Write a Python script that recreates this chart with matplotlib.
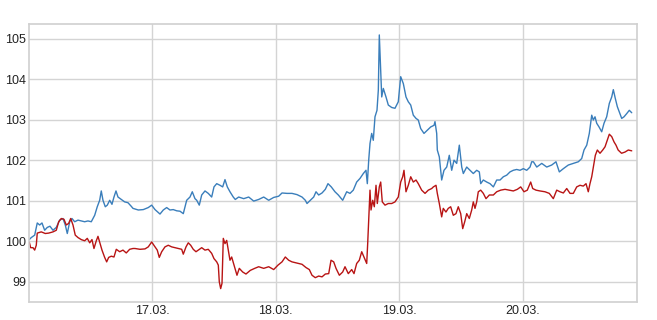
import matplotlib
matplotlib.use("Agg")
import matplotlib.pyplot as plt
import pandas as pd

# hours since 16.03. 00:00 and index values
blue_hours = [0.05, 0.45, 1.11, 1.61, 2.08, 2.53, 3.05, 3.56, 4.08, 4.67, 5.31, 5.97, 6.61, 7.06, 7.45,
              7.92, 8.36, 8.89, 9.53, 10.17, 10.83, 11.47, 12.12, 12.45, 12.78, 13.28, 13.75, 14.06,
              14.39, 14.84, 15.23, 15.70, 16.14, 16.53, 16.92, 17.31, 17.95, 18.61, 19.25, 19.90,
              20.23, 21.26, 22.23, 23.20, 23.86, 24.51, 25.48, 26.12, 26.78, 27.42, 28.06, 28.73,
              29.37, 30.01, 30.34, 30.67, 31.31, 31.76, 32.28, 32.62, 33.12, 33.59, 34.23, 34.87,
              35.53, 35.98, 36.51, 37.15, 37.67, 38.12, 38.57, 39.09, 39.73, 40.12, 40.78, 41.76,
              42.73, 43.70, 44.67, 45.65, 46.62, 47.59, 48.56, 49.21, 50.18, 51.15, 52.12, 53.10,
              53.74, 54.07, 54.71, 55.37, 55.82, 56.34, 56.99, 57.63, 58.15, 58.79, 59.51, 60.16,
              61.01, 61.79, 62.43, 63.07, 63.73, 64.38, 65.02, 65.54, 65.80, 66.07, 66.32, 66.65,
              66.96, 67.29, 67.68, 67.94, 68.13, 68.40, 68.60, 68.91, 69.43, 69.88, 70.54, 71.18,
              71.82, 72.29, 72.80, 73.32, 73.77, 74.24, 74.74, 75.27, 75.71, 76.18, 76.82, 77.47,
              78.13, 78.77, 78.96, 79.29, 79.41, 79.80, 80.26, 80.71, 81.24, 81.74, 82.21, 82.66,
              83.18, 83.69, 84.16, 84.47, 85.13, 85.77, 86.41, 87.07, 87.58, 87.85, 88.36, 89.02,
              89.66, 90.31, 90.96, 91.61, 92.25, 92.91, 93.55, 94.19, 94.85, 95.49, 96.14, 96.80,
              97.44, 97.77, 98.09, 98.75, 99.72, 100.69, 101.66, 102.49, 103.14, 103.92, 104.89,
              105.86, 106.83, 107.49, 107.94, 108.47, 108.97, 109.44, 109.75, 110.08, 110.41,
              110.86, 111.38, 111.83, 112.35, 112.86, 113.33, 113.64, 114.03, 114.42, 114.81,
              115.27, 115.72, 116.25, 116.75, 117.22]
blue_values = [100.04, 100.09, 100.15, 100.45, 100.40, 100.45, 100.27, 100.34, 100.37, 100.27, 100.34,
               100.52, 100.56, 100.40, 100.19, 100.48, 100.56, 100.48, 100.52, 100.50, 100.48, 100.50,
               100.48, 100.56, 100.64, 100.85, 101.01, 101.24, 101.01, 100.85, 100.89, 101.01, 100.91,
               101.09, 101.24, 101.09, 101.03, 100.97, 100.95, 100.86, 100.81, 100.77, 100.78, 100.83,
               100.89, 100.78, 100.67, 100.77, 100.83, 100.77, 100.78, 100.75, 100.74, 100.68, 100.85,
               101.01, 101.09, 101.22, 101.05, 101.01, 100.89, 101.14, 101.24, 101.18, 101.09, 101.34,
               101.42, 101.38, 101.34, 101.52, 101.34, 101.22, 101.09, 101.03, 101.09, 101.05, 101.09,
               100.99, 101.03, 101.09, 101.01, 101.08, 101.11, 101.19, 101.18, 101.18, 101.15, 101.09,
               101.01, 100.93, 101.01, 101.09, 101.22, 101.14, 101.19, 101.28, 101.42, 101.34, 101.22,
               101.14, 101.01, 101.22, 101.18, 101.26, 101.46, 101.55, 101.67, 101.75, 101.42, 102.00,
               102.41, 102.66, 102.49, 103.07, 103.23, 103.73, 105.09, 104.22, 103.56, 103.77, 103.56,
               103.36, 103.30, 103.28, 103.44, 104.06, 103.89, 103.56, 103.44, 103.36, 103.11, 103.03,
               102.99, 102.78, 102.66, 102.74, 102.82, 102.86, 102.95, 102.66, 102.25, 102.08, 101.51,
               101.75, 101.83, 102.12, 101.75, 102.00, 101.92, 102.37, 101.83, 101.67, 101.83, 101.75,
               101.67, 101.75, 101.71, 101.42, 101.51, 101.46, 101.42, 101.34, 101.51, 101.51, 101.59,
               101.63, 101.71, 101.75, 101.77, 101.75, 101.79, 101.75, 101.83, 101.96, 101.96, 101.83,
               101.92, 101.83, 101.88, 101.96, 101.71, 101.79, 101.88, 101.92, 101.96, 102.04, 102.25,
               102.37, 102.66, 103.11, 102.99, 103.07, 102.91, 102.82, 102.70, 102.91, 103.07, 103.40,
               103.56, 103.74, 103.52, 103.32, 103.19, 103.03, 103.07, 103.15, 103.23, 103.17]

red_hours = [0.05, 0.33, 0.78, 1.11, 1.42, 1.61, 2.39, 3.17, 3.83, 4.67, 5.31, 5.78, 6.28, 6.81, 7.25,
             7.72, 8.11, 8.56, 9.00, 9.53, 10.17, 10.83, 11.34, 11.81, 12.25, 12.64, 13.09, 13.42,
             13.75, 14.20, 14.72, 15.11, 15.50, 16.01, 16.53, 16.98, 17.64, 18.28, 18.92, 19.58,
             20.23, 20.62, 21.59, 22.56, 23.20, 23.86, 24.51, 24.95, 25.34, 25.81, 26.45, 27.09,
             27.75, 28.40, 29.04, 29.70, 30.01, 30.54, 30.98, 31.45, 31.95, 32.48, 32.93, 33.59,
             34.23, 34.87, 35.53, 35.98, 36.51, 36.82, 37.01, 37.28, 37.54, 37.79, 38.12, 38.45,
             38.76, 39.09, 39.42, 39.87, 40.45, 40.90, 41.56, 42.20, 43.04, 43.90, 44.67, 45.65,
             46.62, 47.59, 48.43, 49.21, 49.85, 50.51, 51.15, 52.12, 53.10, 53.87, 54.52, 55.04,
             55.68, 56.34, 56.99, 57.63, 58.29, 58.74, 59.26, 59.71, 60.36, 61.01, 61.46, 62.10,
             62.76, 63.21, 63.73, 64.24, 64.71, 65.15, 65.68, 65.87, 66.07, 66.32, 66.52, 66.85,
             67.16, 67.49, 67.74, 68.13, 68.40, 68.71, 69.24, 69.88, 70.54, 71.18, 71.82, 72.29,
             72.68, 72.93, 73.32, 73.77, 74.24, 74.74, 75.27, 75.71, 76.37, 77.02, 77.66, 78.32,
             78.64, 79.16, 79.41, 79.80, 80.26, 80.57, 81.09, 81.54, 82.01, 82.52, 83.04, 83.49,
             83.96, 84.35, 84.74, 85.13, 85.63, 86.10, 86.41, 86.74, 87.07, 87.38, 87.85, 88.36,
             88.88, 89.53, 90.31, 90.96, 91.74, 92.58, 93.41, 94.19, 94.97, 95.63, 96.27, 96.91,
             97.57, 97.96, 98.60, 99.38, 100.35, 101.19, 101.97, 102.63, 103.27, 103.92, 104.58,
             105.22, 105.86, 106.52, 107.16, 107.80, 108.33, 108.77, 109.10, 109.44, 109.75,
             110.14, 110.53, 111.05, 111.58, 112.03, 112.47, 112.86, 113.33, 113.78, 114.16,
             114.58, 115.24, 115.91, 116.55, 117.22]
red_values = [99.98, 99.84, 99.84, 99.78, 99.90, 100.20, 100.23, 100.19, 100.20, 100.23, 100.27, 100.48,
              100.56, 100.54, 100.40, 100.44, 100.56, 100.40, 100.15, 100.09, 100.04, 100.01, 100.07,
              99.96, 100.04, 99.82, 100.01, 100.12, 99.98, 99.78, 99.60, 99.49, 99.60, 99.63, 99.61,
              99.80, 99.74, 99.78, 99.71, 99.80, 99.82, 99.82, 99.80, 99.81, 99.86, 99.98, 99.86,
              99.78, 99.60, 99.74, 99.86, 99.90, 99.86, 99.84, 99.82, 99.80, 99.68, 99.86, 99.96,
              99.90, 99.80, 99.74, 99.78, 99.84, 99.78, 99.80, 99.70, 99.57, 99.49, 99.41, 99.00,
              98.83, 98.96, 100.07, 99.94, 100.02, 99.78, 99.53, 99.61, 99.41, 99.16, 99.33, 99.24,
              99.19, 99.28, 99.33, 99.37, 99.33, 99.37, 99.30, 99.41, 99.49, 99.61, 99.53, 99.49,
              99.46, 99.43, 99.35, 99.30, 99.16, 99.10, 99.14, 99.12, 99.19, 99.20, 99.53, 99.49,
              99.33, 99.16, 99.24, 99.37, 99.20, 99.30, 99.20, 99.45, 99.53, 99.74, 99.61, 99.45,
              99.94, 100.52, 101.26, 100.77, 101.01, 100.85, 101.38, 100.93, 101.34, 101.46, 100.97,
              100.89, 100.93, 100.93, 100.97, 101.09, 101.46, 101.59, 101.75, 101.22, 101.38, 101.59,
              101.46, 101.51, 101.42, 101.26, 101.18, 101.26, 101.30, 101.34, 101.38, 101.18, 100.93,
              100.60, 100.81, 100.72, 100.81, 100.85, 100.64, 100.68, 100.85, 100.68, 100.31, 100.48,
              100.68, 100.56, 100.77, 100.97, 100.81, 100.97, 101.22, 101.26, 101.18, 101.05, 101.14,
              101.14, 101.22, 101.26, 101.28, 101.26, 101.24, 101.28, 101.34, 101.22, 101.26, 101.46,
              101.30, 101.26, 101.24, 101.22, 101.18, 101.05, 101.26, 101.22, 101.19, 101.30, 101.18,
              101.18, 101.34, 101.38, 101.36, 101.42, 101.22, 101.42, 101.59, 101.83, 102.12, 102.25,
              102.17, 102.25, 102.33, 102.49, 102.64, 102.58, 102.45, 102.37, 102.25, 102.17, 102.20,
              102.25, 102.23]

start = pd.Timestamp("2020-03-16 00:00")
tick_dates = ["2020-03-17", "2020-03-18", "2020-03-19", "2020-03-20"]
tick_labels = ["17.03.", "18.03.", "19.03.", "20.03."]
y_ticks = [99, 100, 101, 102, 103, 104, 105]

blue_t = start + pd.to_timedelta(blue_hours, unit="h")
red_t = start + pd.to_timedelta(red_hours, unit="h")

plt.style.use("seaborn-v0_8-whitegrid")
plt.rcParams["font.family"] = ["Liberation Sans", "DejaVu Sans"]

fig = plt.figure(figsize=(6.57, 3.2), dpi=100)
ax = fig.add_axes([0.0441, 0.0563, 0.9255, 0.8687])

ax.plot(blue_t, blue_values, color="#3a7ebb", lw=1.0)
ax.plot(red_t, red_values, color="#b81414", lw=1.0)

ax.set_xlim(start, start + pd.Timedelta(hours=118.25))
ax.set_ylim(98.5, 105.36)
ax.set_xticks(pd.to_datetime(tick_dates))
ax.set_xticklabels(tick_labels)
ax.set_yticks(y_ticks)
ax.set_yticklabels([str(v) for v in y_ticks])
ax.tick_params(axis="both", labelsize=9, colors="#222222", pad=2)
ax.grid(True, color="#d4d4d4", lw=1.0)
for s in ax.spines.values():
    s.set_color("#d0d0d0")
    s.set_linewidth(1.2)

fig.savefig("out.png", dpi=100)
